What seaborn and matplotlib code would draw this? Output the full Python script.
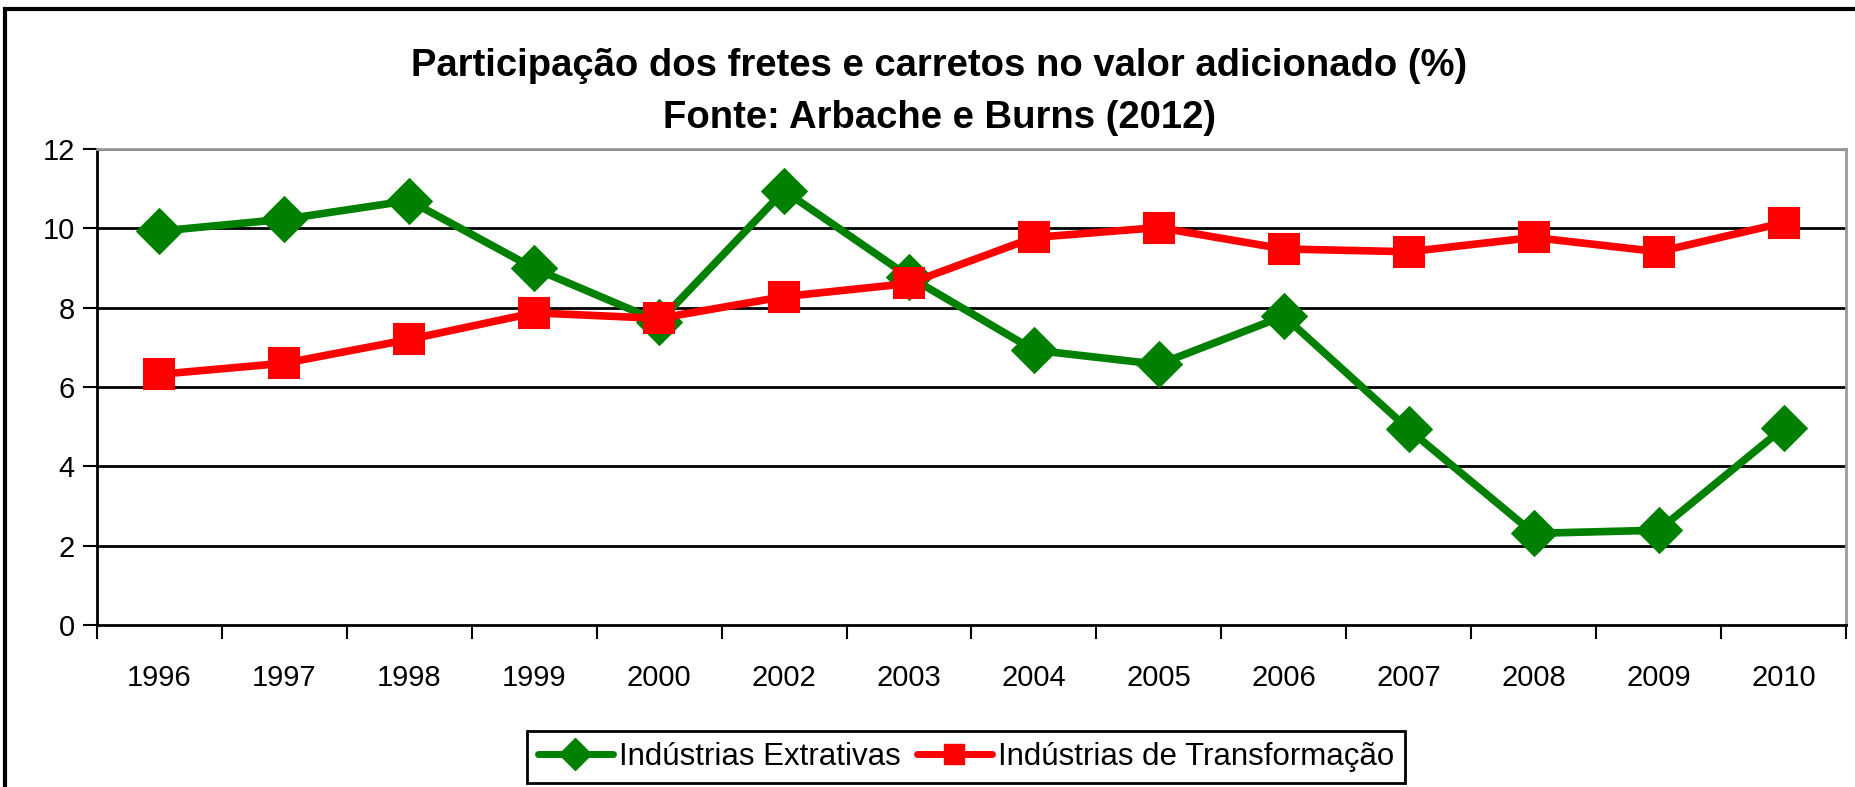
import matplotlib
matplotlib.use("Agg")
import matplotlib.pyplot as plt
import seaborn as sns
import pandas as pd
from matplotlib.patches import Rectangle
from matplotlib.lines import Line2D

years = ["1996", "1997", "1998", "1999", "2000", "2002", "2003",
         "2004", "2005", "2006", "2007", "2008", "2009", "2010"]
extrativas = [9.93, 10.23, 10.70, 8.99, 7.65, 10.95, 8.78,
              6.93, 6.57, 7.79, 4.93, 2.31, 2.39, 4.97]
transformacao = [6.32, 6.60, 7.20, 7.87, 7.73, 8.28, 8.61,
                 9.77, 10.02, 9.48, 9.41, 9.77, 9.41, 10.14]
series_names = ["Indústrias Extrativas", "Indústrias de Transformação"]
title_lines = ["Participação dos fretes e carretos no valor adicionado (%)",
               "Fonte: Arbache e Burns (2012)"]
yticks = [0, 2, 4, 6, 8, 10, 12]

sns.set_theme(style="white")
plt.rcParams['font.family'] = ['Liberation Sans', 'DejaVu Sans']
plt.rcParams['text.color'] = 'black'
plt.rcParams['xtick.color'] = 'black'
plt.rcParams['ytick.color'] = 'black'
plt.rcParams['xtick.labelcolor'] = 'black'
plt.rcParams['ytick.labelcolor'] = 'black'

df = pd.DataFrame({"ano": years * 2,
                   "valor": extrativas + transformacao,
                   "serie": [series_names[0]] * len(years) + [series_names[1]] * len(years)})

fig = plt.figure(figsize=(18.56, 7.87), dpi=100)
ax = fig.add_axes([97 / 1856, 1 - 625 / 787, (1846 - 97) / 1856, (625 - 149) / 787])

green = "#008000"
red = "#FF0000"
sns.lineplot(data=df[df.serie == series_names[0]], x="ano", y="valor", ax=ax,
             color=green, lw=5.5, marker="D", markersize=23, markeredgecolor=green,
             sort=False, legend=False)
sns.lineplot(data=df[df.serie == series_names[1]], x="ano", y="valor", ax=ax,
             color=red, lw=5.5, marker="s", markersize=21, markeredgecolor=red,
             markeredgewidth=1.5, sort=False, legend=False)

ax.set_xlim(-0.5, len(years) - 0.5)
ax.set_ylim(0, 12)
ax.set_yticks(yticks)
ax.set_yticklabels([str(t) for t in yticks], fontsize=21)
ax.set_xticks(range(len(years)))
ax.set_xticklabels(years, fontsize=21)
ax.set_xticks([i - 0.5 for i in range(len(years) + 1)], minor=True)
ax.tick_params(axis="x", which="major", length=0, pad=28)
ax.tick_params(axis="x", which="minor", length=10, width=1.5, color="black", direction="out", bottom=True)
ax.tick_params(axis="y", which="major", length=10, width=1.5, color="black", direction="out", left=True, pad=6)
ax.set_xlabel("")
ax.set_ylabel("")
ax.grid(False)
for t in yticks[1:]:
    ax.axhline(t, color="black", lw=2, zorder=0)

for side in ["left", "bottom"]:
    ax.spines[side].set_color("black")
    ax.spines[side].set_linewidth(2)
for side in ["top", "right"]:
    ax.spines[side].set_color("#999999")
    ax.spines[side].set_linewidth(2)

fig.text(0.506, 1 - 66 / 787, title_lines[0], ha="center", va="center",
         fontsize=27.5, fontweight="bold")
fig.text(0.506, 1 - 118 / 787, title_lines[1], ha="center", va="center",
         fontsize=27.5, fontweight="bold")

handles = [Line2D([], [], color=green, lw=5, marker="D", markersize=16),
           Line2D([], [], color=red, lw=5, marker="s", markersize=15)]
leg = fig.legend(handles, series_names, loc="center", bbox_to_anchor=(966 / 1856, 1 - 757 / 787),
                 ncol=2, fontsize=22.5, frameon=True, fancybox=False, handlelength=2.4,
                 handletextpad=0.2, columnspacing=0.5, borderpad=0.35, edgecolor="black",
                 framealpha=1)
leg.get_frame().set_linewidth(2)

fig.patches.append(Rectangle((5 / 1856, -0.01), 1.0, 1 - 9 / 787 + 0.01, transform=fig.transFigure,
                             fill=False, edgecolor="black", lw=3))

fig.savefig("out.png", dpi=100, facecolor="white")
